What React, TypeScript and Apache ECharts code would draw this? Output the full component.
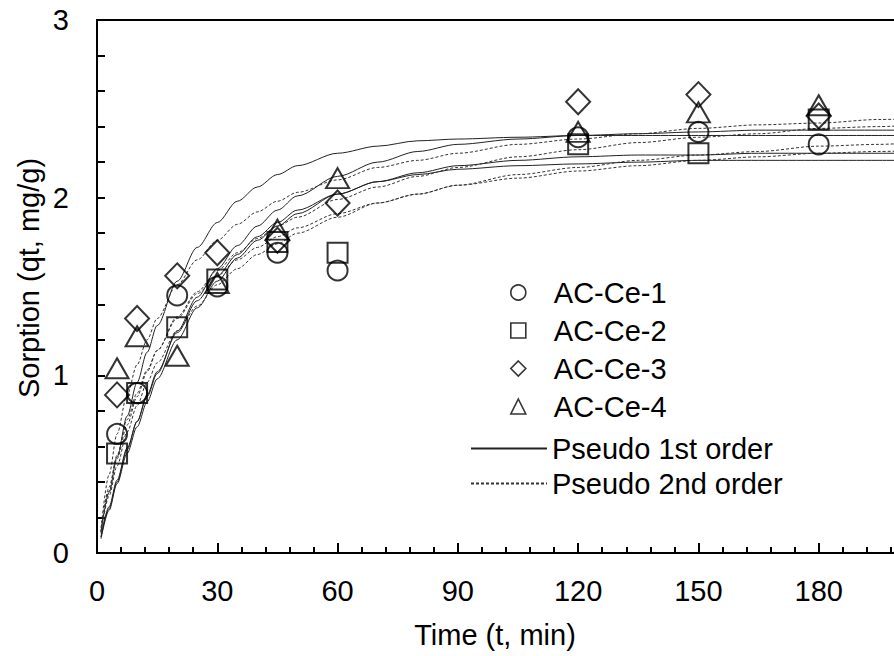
import React, { useEffect, useRef } from "react";
import * as echarts from "echarts";

// Observed sampling times (min)
const obsTimes = [5, 10, 20, 30, 45, 60, 120, 150, 180];
// Observed sorption (qt, mg/g)
const acCe1 = [0.67, 0.9, 1.45, 1.5, 1.69, 1.59, 2.34, 2.37, 2.3];
const acCe2 = [0.56, 0.9, 1.27, 1.54, 1.75, 1.69, 2.3, 2.25, 2.44];
const acCe3 = [0.89, 1.32, 1.56, 1.69, 1.76, 1.97, 2.54, 2.58, 2.46];
const acCe4 = [1.04, 1.22, 1.11, 1.52, 1.82, 2.11, 2.37, 2.48, 2.52];

// Fitted curves
const fitTimes = [1, 3, 5, 7.5, 10, 12.5, 15, 20, 25, 30, 35, 40, 45, 50, 60, 70, 80, 90, 105, 120, 135, 150, 165, 180, 195, 210];
const pfoA = [0.12, 0.34, 0.54, 0.77, 0.96, 1.13, 1.28, 1.53, 1.72, 1.86, 1.98, 2.06, 2.13, 2.18, 2.25, 2.29, 2.32, 2.33, 2.34, 2.35, 2.35, 2.35, 2.35, 2.35, 2.35, 2.35];
const pfoB = [0.09, 0.25, 0.4, 0.58, 0.74, 0.88, 1.01, 1.25, 1.44, 1.6, 1.73, 1.84, 1.93, 2.01, 2.12, 2.2, 2.26, 2.3, 2.33, 2.35, 2.36, 2.37, 2.38, 2.38, 2.38, 2.38];
const pfoC = [0.08, 0.24, 0.39, 0.56, 0.71, 0.85, 0.98, 1.2, 1.38, 1.53, 1.66, 1.76, 1.84, 1.91, 2.02, 2.09, 2.14, 2.18, 2.21, 2.23, 2.24, 2.24, 2.25, 2.25, 2.25, 2.25];
const pfoD = [0.09, 0.26, 0.41, 0.59, 0.74, 0.89, 1.02, 1.24, 1.42, 1.56, 1.68, 1.78, 1.86, 1.93, 2.02, 2.09, 2.13, 2.16, 2.18, 2.19, 2.2, 2.21, 2.21, 2.21, 2.21, 2.21];
const psoA = [0.14, 0.44, 0.67, 0.89, 1.06, 1.2, 1.32, 1.51, 1.65, 1.76, 1.85, 1.92, 1.98, 2.03, 2.1, 2.17, 2.21, 2.25, 2.3, 2.33, 2.36, 2.39, 2.41, 2.42, 2.44, 2.45];
const psoB = [0.12, 0.35, 0.53, 0.72, 0.88, 1.02, 1.14, 1.33, 1.47, 1.59, 1.69, 1.77, 1.84, 1.89, 1.99, 2.06, 2.12, 2.17, 2.23, 2.27, 2.31, 2.34, 2.36, 2.39, 2.4, 2.42];
const psoC = [0.11, 0.32, 0.49, 0.68, 0.83, 0.96, 1.07, 1.25, 1.39, 1.51, 1.6, 1.68, 1.74, 1.8, 1.89, 1.97, 2.02, 2.07, 2.13, 2.17, 2.21, 2.24, 2.26, 2.29, 2.3, 2.32];
const psoD = [0.12, 0.37, 0.55, 0.75, 0.9, 1.03, 1.14, 1.32, 1.46, 1.56, 1.65, 1.72, 1.78, 1.83, 1.91, 1.97, 2.02, 2.07, 2.11, 2.15, 2.18, 2.21, 2.23, 2.25, 2.26, 2.27];

const sampleNames = ["AC-Ce-1", "AC-Ce-2", "AC-Ce-3", "AC-Ce-4"];
const fitNames = ["Pseudo 1st order", "Pseudo 2nd order"];
const xTitle = "Time (t, min)";
const yTitle = "Sorption (qt, mg/g)";

const FONT = '"Liberation Sans", Arial, sans-serif';

export default function App() {
  const ref = useRef<HTMLDivElement>(null);
  useEffect(() => {
    if (!ref.current) return;
    const chart = echarts.init(ref.current, null, { renderer: "svg" });
    const pair = (xs: number[], ys: number[]) => xs.map((x, i) => [x, ys[i]]);
    const obs = [acCe1, acCe2, acCe3, acCe4];
    const symbols = ["circle", "rect", "diamond", "triangle"];
    const sizes: any[] = [20, 20, [24, 25], [23, 20]];
    const scatterSeries = obs.map((ys, i) => ({
      type: "scatter",
      name: sampleNames[i],
      data: pair(obsTimes, ys),
      symbol: symbols[i],
      symbolSize: sizes[i],
      itemStyle: { color: "transparent", borderColor: "#000", borderWidth: 2 },
      z: 3,
    }));
    const pfo = [pfoA, pfoB, pfoC, pfoD];
    const pso = [psoA, psoB, psoC, psoD];
    const lineSeries: any[] = [];
    pfo.forEach((ys) =>
      lineSeries.push({
        type: "line",
        name: fitNames[0],
        data: pair(fitTimes, ys),
        symbol: "none",
        smooth: 0.3,
        smoothMonotone: "x",
        itemStyle: { color: "transparent" },
        lineStyle: { color: "#222", width: 1, type: "solid" },
        z: 2,
      })
    );
    pso.forEach((ys) =>
      lineSeries.push({
        type: "line",
        name: fitNames[1],
        data: pair(fitTimes, ys),
        symbol: "none",
        smooth: 0.3,
        smoothMonotone: "x",
        itemStyle: { color: "transparent" },
        lineStyle: { color: "#333", width: 1, type: [3, 2] },
        z: 2,
      })
    );
    const textStyle = { color: "#000", fontSize: 29, fontFamily: FONT };
    chart.setOption({
      animation: false,
      backgroundColor: "#fff",
      grid: {
        left: 97,
        top: 20,
        right: 0,
        bottom: 103,
        outerBoundsMode: "none",
        containLabel: false,
        show: true,
        borderColor: "#000",
        borderWidth: 2,
        backgroundColor: "transparent",
      },
      xAxis: {
        type: "value",
        min: 0,
        max: 210,
        interval: 30,
        axisLine: { show: true, lineStyle: { color: "#000", width: 2 } },
        axisTick: { show: true, inside: true, length: 10, lineStyle: { color: "#000", width: 2 } },
        minorTick: { show: true, splitNumber: 5, length: 6, lineStyle: { color: "#000", width: 2 } },
        splitLine: { show: false },
        axisLabel: { ...textStyle, margin: 23, showMaxLabel: false },
      },
      yAxis: {
        type: "value",
        min: 0,
        max: 3,
        interval: 1,
        axisLine: { show: true, lineStyle: { color: "#000", width: 2 } },
        axisTick: { show: true, inside: true, length: 8, lineStyle: { color: "#000", width: 2 } },
        minorTick: { show: true, splitNumber: 5, length: 8, lineStyle: { color: "#000", width: 2 } },
        splitLine: { show: false },
        axisLabel: { ...textStyle, margin: 28 },
      },
      legend: [
        {
          data: sampleNames,
          orient: "vertical",
          left: 505,
          top: 273,
          itemWidth: 15,
          itemHeight: 15,
          itemGap: 9,
          itemStyle: { borderWidth: 1.6 },
          textStyle: { ...textStyle, padding: [0, 0, 0, 23] },
          selectedMode: false,
        },
        {
          data: fitNames,
          orient: "vertical",
          left: 465,
          top: 429,
          itemWidth: 76,
          itemHeight: 15,
          itemGap: 6,
          itemStyle: { color: "transparent", borderWidth: 0 },
          textStyle: { ...textStyle, padding: 0 },
          selectedMode: false,
        },
      ],
      graphic: [
        {
          type: "text",
          x: 495,
          y: 635,
          style: {
            text: xTitle,
            font: `29px ${FONT}`,
            fill: "#000",
            align: "center",
            verticalAlign: "middle",
            textAlign: "center",
            textVerticalAlign: "middle",
          },
        },
        {
          type: "text",
          x: 29,
          y: 278,
          rotation: Math.PI / 2,
          style: {
            text: yTitle,
            font: `29px ${FONT}`,
            fill: "#000",
            align: "center",
            verticalAlign: "middle",
            textAlign: "center",
            textVerticalAlign: "middle",
          },
        },
      ],
      series: [...lineSeries, ...scatterSeries],
    });
    return () => chart.dispose();
  }, []);
  return (
    <div
      ref={ref}
      style={{ position: "fixed", left: 0, top: 0, width: 939, height: 656, background: "#fff" }}
    />
  );
}
